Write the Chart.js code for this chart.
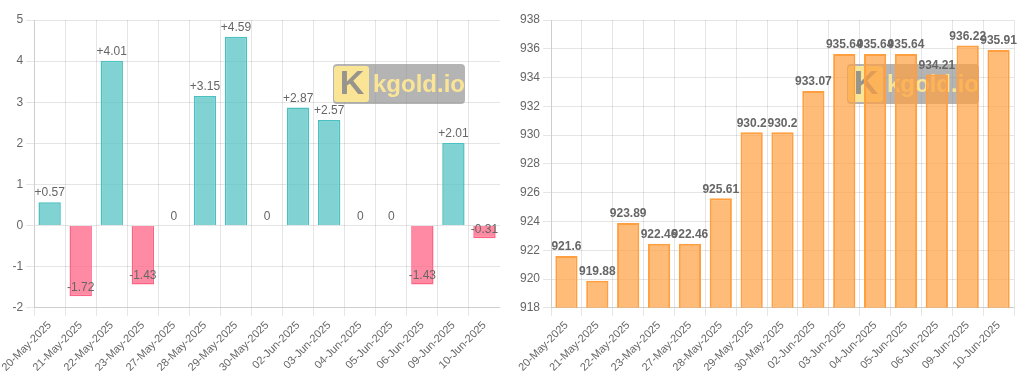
<!DOCTYPE html>
<html>
<head>
<meta charset="utf-8">
<script src="https://cdn.jsdelivr.net/npm/chart.js@4.4.0/dist/chart.umd.min.js"></script>
<style>
  html, body { margin: 0; padding: 0; background: #fff; overflow: hidden; }
  .wrap { position: absolute; top: 0; height: 377px; }
  #w1 { left: 0; width: 500px; }
  #w2 { left: 512px; width: 512px; }
</style>
</head>
<body>
<div class="wrap" id="w1"><canvas id="chartCambio"></canvas></div>
<div class="wrap" id="w2"><canvas id="chartPrecio"></canvas></div>
<script>
const fechas = [
  "20-May-2025", "21-May-2025", "22-May-2025", "23-May-2025", "27-May-2025",
  "28-May-2025", "29-May-2025", "30-May-2025", "02-Jun-2025", "03-Jun-2025",
  "04-Jun-2025", "05-Jun-2025", "06-Jun-2025", "09-Jun-2025", "10-Jun-2025",
];
const cambios = [0.57, -1.72, 4.01, -1.43, 0, 3.15, 4.59, 0, 2.87, 2.57, 0, 0, -1.43, 2.01, -0.31];
const precios = [921.6, 919.88, 923.89, 922.46, 922.46, 925.61, 930.2, 930.2, 933.07, 935.64, 935.64, 935.64, 934.21, 936.22, 935.91];

Chart.defaults.font.family = "'Liberation Sans', Arial, sans-serif";
Chart.defaults.font.size = 12;
Chart.defaults.color = "#666";

// marca de agua detras de las barras
const marcaAgua = {
  id: "marcaAgua",
  beforeDatasetsDraw(chart) {
    const { ctx, chartArea } = chart;
    const w = 132, h = 40;
    const x = chartArea.right - 35 - w;
    const y = chartArea.top + 44;
    ctx.save();
    ctx.fillStyle = "rgba(140,140,140,0.65)";
    ctx.beginPath();
    ctx.roundRect(x, y, w, h, 4);
    ctx.fill();
    ctx.fillStyle = "rgba(255,232,150,0.95)";
    ctx.beginPath();
    ctx.roundRect(x + 1, y + 2, 35, 36, 3);
    ctx.fill();
    ctx.fillStyle = "rgba(140,140,140,0.9)";
    ctx.font = "bold 34px 'Liberation Sans', Arial, sans-serif";
    ctx.textAlign = "center";
    ctx.textBaseline = "middle";
    ctx.fillText("K", x + 19, y + 21);
    ctx.fillStyle = "rgba(255,232,150,0.95)";
    ctx.font = "bold 24px 'Liberation Sans', Arial, sans-serif";
    ctx.textAlign = "left";
    ctx.fillText("kgold.io", x + 40, y + 21);
    ctx.restore();
  },
};

// etiquetas encima de cada barra
const etiquetas = {
  id: "etiquetas",
  afterDatasetsDraw(chart, args, opts) {
    const { ctx } = chart;
    const meta = chart.getDatasetMeta(0);
    const data = chart.data.datasets[0].data;
    ctx.save();
    ctx.font = (opts.bold ? "bold " : "") + "12px 'Liberation Sans', Arial, sans-serif";
    ctx.fillStyle = opts.color || "#666";
    ctx.textAlign = "center";
    ctx.textBaseline = "bottom";
    meta.data.forEach((bar, i) => {
      let v = data[i];
      let txt = opts.signo && v > 0 ? "+" + v : String(v);
      ctx.fillText(txt, bar.x, bar.y - 3);
    });
    ctx.restore();
  },
};

const ejeX = {
  grid: { color: "rgba(0,0,0,0.1)" },
  ticks: { maxRotation: 45, minRotation: 45, autoSkip: false, font: { size: 11 } },
};

new Chart(document.getElementById("chartCambio"), {
  type: "bar",
  data: {
    labels: fechas,
    datasets: [{
      data: cambios,
      backgroundColor: cambios.map((v) => (v >= 0 ? "rgba(75,192,192,0.7)" : "rgba(255,99,132,0.75)")),
      borderColor: cambios.map((v) => (v >= 0 ? "rgb(75,192,192)" : "rgb(255,99,132)")),
      borderWidth: 1.5,
    }],
  },
  options: {
    responsive: true,
    maintainAspectRatio: false,
    animation: false,
    layout: { padding: { top: 20, right: 0, left: 0 } },
    plugins: {
      legend: { display: false },
      tooltip: { enabled: false },
      etiquetas: { signo: true, color: "#666" },
    },
    scales: {
      x: ejeX,
      y: { min: -2, max: 5, ticks: { stepSize: 1 }, grid: { color: "rgba(0,0,0,0.1)" } },
    },
  },
  plugins: [marcaAgua, etiquetas],
});

new Chart(document.getElementById("chartPrecio"), {
  type: "bar",
  data: {
    labels: fechas,
    datasets: [{
      data: precios,
      backgroundColor: "rgba(255,159,64,0.7)",
      borderColor: "rgb(255,159,64)",
      borderWidth: 2,
    }],
  },
  options: {
    responsive: true,
    maintainAspectRatio: false,
    animation: false,
    layout: { padding: { top: 20, right: 10, left: 5 } },
    plugins: {
      legend: { display: false },
      tooltip: { enabled: false },
      etiquetas: { bold: true, color: "#666" },
    },
    scales: {
      x: ejeX,
      y: { min: 918, max: 938, ticks: { stepSize: 2 }, grid: { color: "rgba(0,0,0,0.1)" } },
    },
  },
  plugins: [marcaAgua, etiquetas],
});
</script>
</body>
</html>
